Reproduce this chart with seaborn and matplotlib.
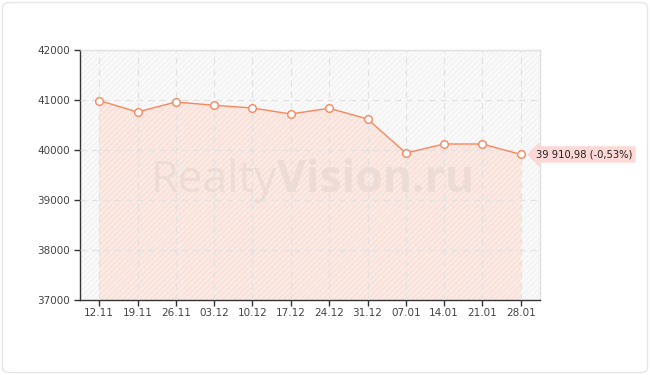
import matplotlib
matplotlib.use("Agg")
import matplotlib.pyplot as plt
import seaborn as sns
import pandas as pd
import numpy as np
from matplotlib.patches import FancyBboxPatch, Rectangle

dates = ["12.11", "19.11", "26.11", "03.12", "10.12", "17.12", "24.12", "31.12",
         "07.01", "14.01", "21.01", "28.01"]
values = [40990, 40760, 40960, 40895, 40840, 40720, 40835, 40620,
          39940, 40120, 40120, 39910.98]
yticks = [37000, 38000, 39000, 40000, 41000, 42000]
last_label = "39 910,98 (-0,53%)"

sns.set_theme(style="white")
plt.rcParams['font.family'] = ['DejaVu Sans']
plt.rcParams['hatch.linewidth'] = 0.6

df = pd.DataFrame({"date": dates, "value": values, "idx": np.arange(len(dates))})

fig = plt.figure(figsize=(6.5, 3.75), dpi=100)
fig.patch.set_facecolor("white")
frame = FancyBboxPatch((2.5 / 650, 2.5 / 375), 645 / 650, 370 / 375,
                       boxstyle="round,pad=0,rounding_size=0.012",
                       transform=fig.transFigure, facecolor="none",
                       edgecolor="#e6e6e6", linewidth=1.0, zorder=-5)
fig.patches.append(frame)

ax = fig.add_axes([80 / 650, 75 / 375, 460 / 650, 250 / 375])
ax.set_facecolor("#f9f9f9")
bg = Rectangle((0, 0), 1, 1, transform=ax.transAxes, facecolor="none",
               edgecolor="#f0f0f0", hatch="//////", linewidth=0, zorder=0)
ax.add_patch(bg)

ax.fill_between(df["idx"], values, 37000, facecolor="#fbe9e3", edgecolor="#f7dbd2",
                hatch="//////", linewidth=0, zorder=1)

ax.grid(True, color="#e2e2e2", linestyle=(0, (5, 4)), linewidth=0.9, zorder=2)
ax.set_axisbelow(False)

ax.text(0.428, 0.432, "Realty", transform=ax.transAxes, ha="right", va="baseline",
        fontsize=32, color="#eddbd6", family="Open Sans", zorder=2)
ax.text(0.428, 0.432, "Vision.ru", transform=ax.transAxes, ha="left", va="baseline",
        fontsize=32, color="#eddbd6", family="Open Sans", fontweight="bold", zorder=2)

sns.lineplot(data=df, x="idx", y="value", ax=ax, color="#f5885e", linewidth=1.0,
             marker="o", markersize=5.5, markerfacecolor="white",
             markeredgecolor="#f5885e", markeredgewidth=1.0, zorder=4)

ax.set_xlim(-0.5, len(dates) - 0.5)
ax.set_ylim(37000, 42000)
ax.set_xticks(df["idx"])
ax.set_xticklabels(dates)
ax.set_yticks(yticks)
ax.set_yticklabels([str(v) for v in yticks])
ax.set_xlabel("")
ax.set_ylabel("")
ax.tick_params(axis="both", labelsize=7.5, colors="#333333", length=4, width=1,
               direction="out", pad=3, bottom=True, left=True)
ax.tick_params(axis="x", pad=2)
for lbl in ax.get_xticklabels() + ax.get_yticklabels():
    lbl.set_color("#444444")

for s in ["left", "bottom"]:
    ax.spines[s].set_color("#333333")
    ax.spines[s].set_linewidth(1.0)
for s in ["top", "right"]:
    ax.spines[s].set_color("#e0e0e0")
    ax.spines[s].set_linewidth(1.0)

ax.annotate(last_label, xy=(df["idx"].iloc[-1], values[-1]), xytext=(11, 0),
            textcoords="offset points", ha="left", va="center", fontsize=7.2,
            color="#222222",
            bbox=dict(boxstyle="larrow,pad=0.25", facecolor="#fcd8d6",
                      edgecolor="#fcd8d6"),
            annotation_clip=False, zorder=6)

fig.savefig("out.png", dpi=100)
